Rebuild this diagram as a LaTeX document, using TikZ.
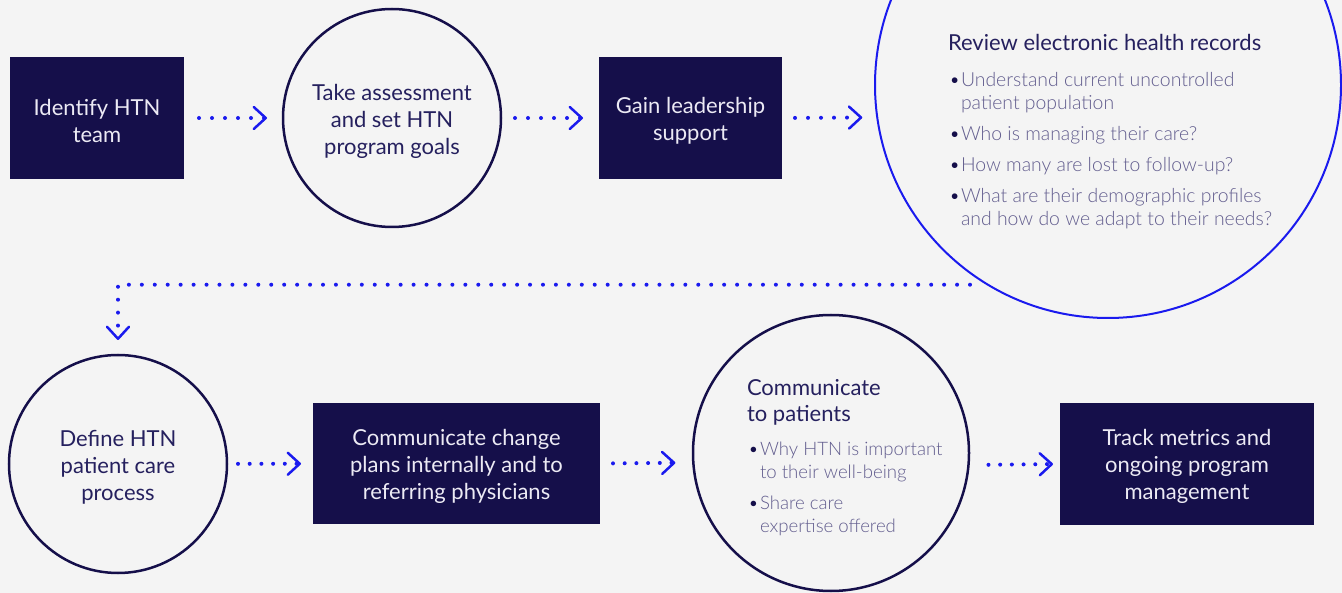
\documentclass[tikz,border=0pt]{standalone}
\usepackage{fontspec}
\setmainfont{Lato}
\newfontfamily\lightfont{Lato Light}
\usetikzlibrary{arrows.meta}

\definecolor{pagebg}{HTML}{F4F4F4}
\definecolor{navy}{HTML}{150F4A}
\definecolor{flowblue}{HTML}{1A1AEE}
\definecolor{boxtext}{HTML}{ECEAF4}
\definecolor{headtext}{HTML}{25205E}
\definecolor{bullettext}{HTML}{625D8E}

\newcommand{\bul}{\makebox[12pt][l]{\color{navy}\textbullet}}
\newcommand{\cont}{\hspace*{12pt}}

\begin{document}
\begin{tikzpicture}[x=1pt,y=1pt,
  every node/.style={outer sep=0pt},
  darkbox/.style={fill=navy, inner sep=0pt, minimum height=122pt},
  ring/.style={circle, draw=navy, line width=2.5pt, inner sep=0pt},
  bigring/.style={circle, draw=flowblue, line width=2pt, inner sep=0pt},
  boxlabel/.style={inner sep=0pt, align=center, text=boxtext, yshift=-2.5pt,
    font=\fontsize{22}{27}\selectfont},
  ringlabel/.style={inner sep=0pt, align=center, text=headtext, yshift=-3.5pt,
    font=\fontsize{22}{27}\selectfont},
  heading/.style={inner sep=0pt, align=left, text=headtext,
    font=\fontsize{22}{26}\selectfont},
  bullets/.style={inner sep=0pt, align=left, text=bullettext,
    font=\lightfont\fontsize{#1}{23}\selectfont},
  bullets/.default=19.4,
  flow/.style={draw=flowblue, line width=4pt, line cap=round,
    dash pattern=on 0pt off #1,
    -{Straight Barb[length=12pt,width=22pt,line width=2.5pt,round]}},
  flow/.default=13pt]

% page
\fill[pagebg] (0,0) rectangle (1342,-593);
\useasboundingbox (0,0) rectangle (1342,-593);

\begin{scope}
\clip (0,0) rectangle (1342,-593);

% top row
\node[darkbox, minimum width=174pt] (team) at (97,-118) {};
\node[boxlabel] (teamtxt) at (team) {Identify HTN\\team};
\node[ring, minimum size=218pt] (assess) at (392,-118) {};
\node[ringlabel] (assesstxt) at (assess) {Take assessment\\and set HTN\\program goals};
\node[darkbox, minimum width=183pt] (lead) at (690.5,-118) {};
\node[boxlabel] (leadtxt) at (lead) {Gain leadership\\support};
\node[bigring, minimum size=466pt] (ehr) at (1108,-85) {};
\node[heading, anchor=north west] (ehrhead) at (948,-34)
  {Review electronic health records};
\node[bullets, anchor=north west] (ehrlist) at (949,-72)
  {\bul Understand current uncontrolled\\
   \cont patient population\\[8pt]
   \bul Who is managing their care?\\[8pt]
   \bul How many are lost to follow-up?\\[8pt]
   \bul What are their demographic profiles\\
   \cont and how do we adapt to their needs?};

% bottom row
\node[ring, minimum size=218pt] (define) at (118,-464) {};
\node[ringlabel] (definetxt) at (define) {Define HTN\\patient care\\process};
\node[darkbox, minimum width=287pt, minimum height=121pt] (plans) at (456.5,-463.5) {};
\node[boxlabel] (planstxt) at (plans)
  {Communicate change\\plans internally and to\\referring physicians};
\node[ring, minimum size=276pt] (patients) at (831,-453) {};
\node[heading, anchor=north west] (pathead) at (747,-379)
  {Communicate\\to patients};
\node[bullets=18.6, anchor=north west] (patlist) at (748,-442)
  {\bul Why HTN is important\\
   \cont to their well-being\\[8pt]
   \bul Share care\\
   \cont expertise offered};
\node[darkbox, minimum width=254pt] (track) at (1187,-464) {};
\node[boxlabel] (tracktxt) at (track)
  {Track metrics and\\ongoing program\\management};

% connectors
\draw[flow, shorten <=15pt, shorten >=16pt] (team) -- (assess);
\draw[flow, shorten <=14pt, shorten >=16pt] (assess) -- (lead);
\draw[flow, shorten <=13pt, shorten >=15pt] (lead.east) -- (ehr.188.14);
\draw[flow=12.94pt, shorten <=18pt, shorten >=15pt] (ehr.239.6) -| (define.north);
\draw[flow=11.7pt, shorten <=11pt, shorten >=12pt] (define) -- (plans);
\draw[flow=11.7pt, shorten <=13pt, shorten >=18pt] (plans.east) -- (patients.184.57);
\draw[flow=11.7pt, shorten <=20pt, shorten >=7pt] (patients.355.43) -- (track.west);
\end{scope}
\end{tikzpicture}
\end{document}
